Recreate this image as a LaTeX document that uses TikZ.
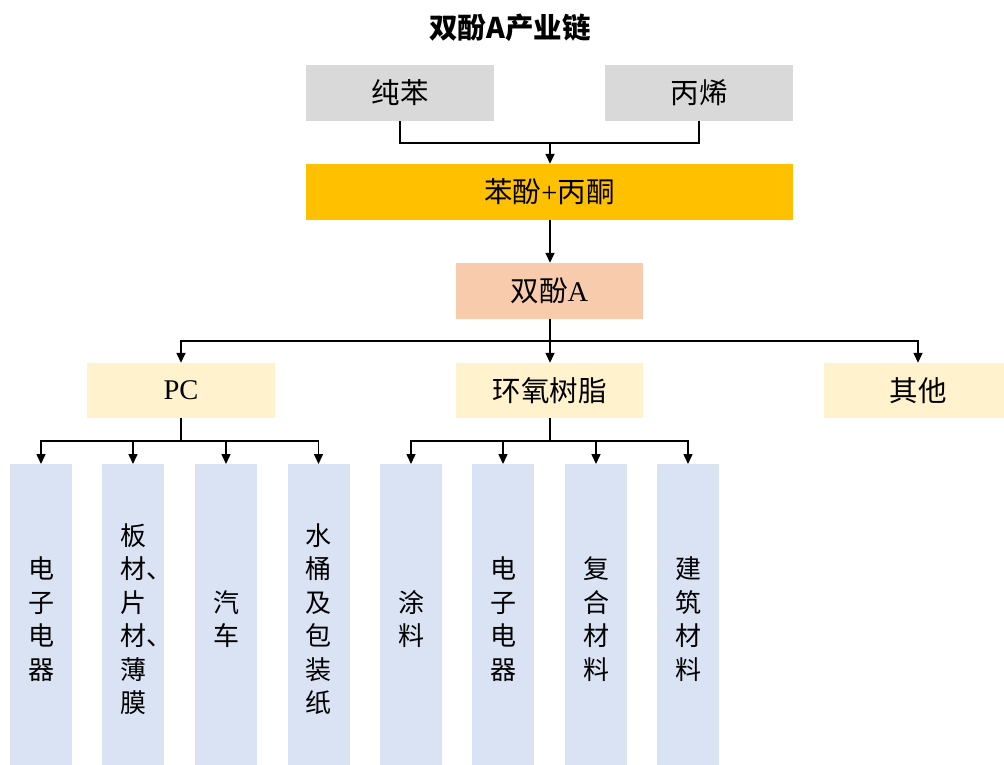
\documentclass[tikz,border=0pt]{standalone}
\usepackage{fontspec}
\setmainfont{Liberation Serif}
\newfontfamily\cjk{Noto Sans CJK SC}
\usetikzlibrary{arrows.meta}
\definecolor{cgray}{HTML}{D9D9D9}
\definecolor{corange}{HTML}{FFC000}
\definecolor{csalmon}{HTML}{F8CBAD}
\definecolor{ccream}{HTML}{FFF2CC}
\definecolor{cblue}{HTML}{DAE3F3}
\tikzset{
  box/.style={inner sep=0pt, font=\fontsize{28.5}{32}\selectfont},
  graybox/.style={box, fill=cgray, minimum width=188pt, minimum height=56pt},
  bluebox/.style={inner sep=0pt, fill=cblue, minimum width=62pt, minimum height=310pt, anchor=north,
    font=\fontsize{26}{33.5}\selectfont\cjk, align=left, text width=26pt},
  conn/.style={line width=1.5pt},
  arr/.style={conn, -{Triangle[length=10pt,width=9pt]}},
}
\begin{document}
\begin{tikzpicture}[x=1pt,y=-1pt]
\useasboundingbox (0,0) rectangle (1004,764);
\fill[white] (0,0) rectangle (1004,764);
\node[font=\fontsize{28.5}{32}\selectfont\cjk\bfseries] (title) at (510,28) {双酚A产业链};
\node[graybox] (chb) at (400,93) {\cjk 纯苯};
\node[graybox] (bx) at (699,93) {\cjk 丙烯};
\node[box, fill=corange, minimum width=487pt, minimum height=56pt] (bf) at (549.5,192) {{\cjk 苯酚}+{\cjk 丙酮}};
\node[box, fill=csalmon, minimum width=187pt, minimum height=56pt] (bpa) at (549.5,291) {{\cjk 双酚}A};
\node[box, fill=ccream, minimum width=188pt, minimum height=55pt] (pc) at (181,390.5) {PC};
\node[box, fill=ccream, minimum width=187pt, minimum height=55pt] (hy) at (549.5,390.5) {\cjk 环氧树脂};
\node[box, fill=ccream, minimum width=188pt, minimum height=55pt] (qt) at (918,390.5) {\cjk 其他};
% blue boxes
\node[bluebox] (b1) at (41,464) {电\\子\\电\\器};
\node[bluebox] (b2) at (133,464) {板\\材、\\片\\材、\\薄\\膜};
\node[bluebox] (b3) at (226,464) {汽\\车};
\node[bluebox] (b4) at (318.5,464) {水\\桶\\及\\包\\装\\纸};
\node[bluebox] (b5) at (411,464) {涂\\料};
\node[bluebox] (b6) at (503,464) {电\\子\\电\\器};
\node[bluebox] (b7) at (596,464) {复\\合\\材\\料};
\node[bluebox] (b8) at (688,464) {建\\筑\\材\\料};
% connectors
\coordinate (j1) at (550,143);
\draw[conn] (chb.south) |- (j1);
\draw[conn] (bx.south) |- (j1);
\draw[arr] (j1) -- (bf.north -| j1);
\draw[arr] (bf.south -| j1) -- (bpa.north -| j1);
\coordinate (j2) at (550,341);
\draw[conn] (bpa.south -| j2) -- (j2);
\draw[arr] (j2) -| (pc.north);
\draw[arr] (j2) -- (hy.north -| j2);
\draw[arr] (j2) -| (qt.north);
\coordinate (j3) at (181,441);
\draw[conn] (pc.south) -- (j3);
\foreach \b in {b1,b2,b3,b4} \draw[arr] (j3) -| (\b.north);
\coordinate (j4) at (550,441);
\draw[conn] (hy.south -| j4) -- (j4);
\foreach \b in {b5,b6,b7,b8} \draw[arr] (j4) -| (\b.north);
\end{tikzpicture}
\end{document}
